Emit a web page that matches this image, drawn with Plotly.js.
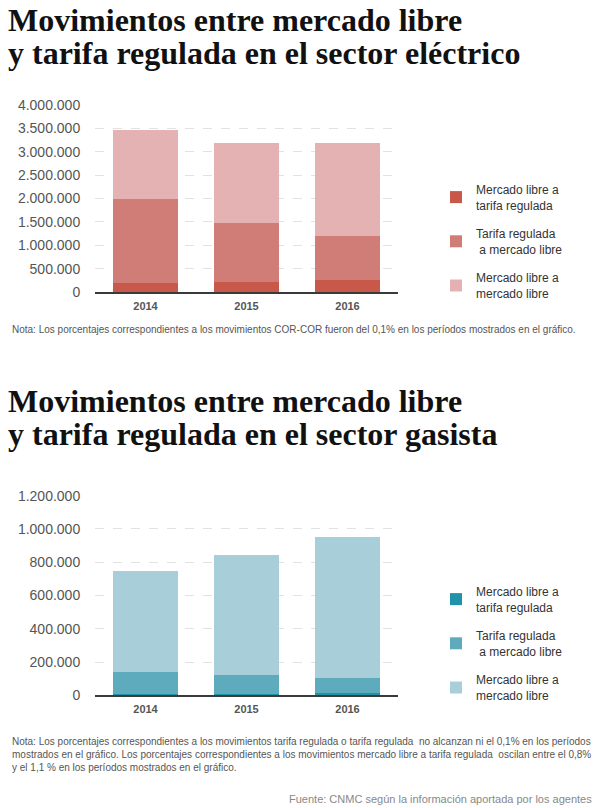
<!DOCTYPE html>
<html>
<head>
<meta charset="utf-8">
<script src="https://cdn.plot.ly/plotly-3.0.1.min.js"></script>
<style>html,body{margin:0;padding:0;background:#fff;}#chart{width:606px;height:808px;}</style>
</head>
<body>
<div id="chart"></div>
<script>
// ---- Data ----
const years = ['2014', '2015', '2016'];

// Sector eléctrico (número de movimientos)
const elecLibreATarifa = [195000, 210000, 265000];
const elecTarifaALibre = [1795000, 1260000, 935000];
const elecLibreALibre = [1475000, 1720000, 1980000];

// Sector gasista
const gasLibreATarifa = [6000, 7000, 11000];
const gasTarifaALibre = [132000, 117000, 93000];
const gasLibreALibre = [611000, 718000, 846000];

const seriesNames = ['Mercado libre a<br>tarifa regulada', 'Tarifa regulada<br> a mercado libre', 'Mercado libre a<br>mercado libre'];

const elecTicks = [0, 500000, 1000000, 1500000, 2000000, 2500000, 3000000, 3500000, 4000000];
const gasTicks = [0, 200000, 400000, 600000, 800000, 1000000, 1200000];

const titleElec = ['Movimientos entre mercado libre', 'y tarifa regulada en el sector eléctrico'];
const titleGas = ['Movimientos entre mercado libre', 'y tarifa regulada en el sector gasista'];
const notaElec = 'Nota: Los porcentajes correspondientes a los movimientos COR-COR fueron del 0,1% en los períodos mostrados en el gráfico.';
const notaGas = ['Nota: Los porcentajes correspondientes a los movimientos tarifa regulada o tarifa regulada  no alcanzan ni el 0,1% en los períodos',
  'mostrados en el gráfico. Los porcentajes correspondientes a los movimientos mercado libre a tarifa regulada  oscilan entre el 0,8%',
  'y el 1,1 % en los períodos mostrados en el gráfico.'];
const fuente = 'Fuente: CNMC según la información aportada por los agentes';

// ---- Styles ----
const W = 606, H = 808;
const px = v => v / W;
const py = v => 1 - v / H;
const elecColors = ['#c8584a', '#d17d77', '#e4b2b2'];
const gasColors = ['#1f93a8', '#5eabbe', '#a8ceda'];

function mk(y, name, color, xa, ya, leg, grp) {
  return {type: 'bar', x: years, y: y, name: name, marker: {color: color, line: {width: 0}},
    xaxis: xa, yaxis: ya, legend: leg, legendgroup: grp, hoverinfo: 'skip'};
}

const traces = [
  mk(elecLibreATarifa, seriesNames[0], elecColors[0], 'x', 'y', 'legend', 'e1'),
  mk(elecTarifaALibre, seriesNames[1], elecColors[1], 'x', 'y', 'legend', 'e2'),
  mk(elecLibreALibre, seriesNames[2], elecColors[2], 'x', 'y', 'legend', 'e3'),
  mk(gasLibreATarifa, seriesNames[0], gasColors[0], 'x2', 'y2', 'legend2', 'g1'),
  mk(gasTarifaALibre, seriesNames[1], gasColors[1], 'x2', 'y2', 'legend2', 'g2'),
  mk(gasLibreALibre, seriesNames[2], gasColors[2], 'x2', 'y2', 'legend2', 'g3')
];

const sans = 'Liberation Sans, Arial, sans-serif';
const serif = 'Liberation Serif, Times New Roman, serif';

function xaxisCfg(anchor) {
  return {domain: [px(95), px(398)], anchor: anchor, type: 'category', showline: true, linecolor: '#3a3a3a',
    linewidth: 1.5, showgrid: false, zeroline: false, ticks: '', fixedrange: true, ticklabelstandoff: 3,
    tickfont: {family: sans, size: 11, color: '#555', weight: 'bold'}};
}
function yaxisCfg(anchor, dom, rng, ticks) {
  return {domain: dom, anchor: anchor, range: rng, tickvals: ticks, tickformat: ',d', showline: false,
    zeroline: false, showgrid: true, gridcolor: '#e2e2e2', griddash: 'dash', gridwidth: 1,
    ticks: 'outside', ticklen: 11, tickcolor: 'rgba(0,0,0,0)', fixedrange: true,
    tickfont: {family: sans, size: 14, color: '#555'}};
}

const ann = [];
function txt(text, x, y, size, family, color, xanchor, weight) {
  ann.push({text: text, x: x, y: y, xref: 'paper', yref: 'paper', xanchor: xanchor || 'left',
    yanchor: 'middle', showarrow: false, align: xanchor === 'right' ? 'right' : 'left',
    font: {family: family, size: size, color: color, weight: weight || 'normal'}});
}
txt(titleElec[0], px(6), py(20), 32, serif, '#111', 'left', 'bold');
txt(titleElec[1], px(6), py(53), 32, serif, '#111', 'left', 'bold');
txt(titleGas[0], px(6), py(401), 32, serif, '#111', 'left', 'bold');
txt(titleGas[1], px(6), py(434), 32, serif, '#111', 'left', 'bold');
txt(notaElec, px(10), py(329), 10, sans, '#555');
txt(notaGas[0], px(10), py(741), 10, sans, '#555');
txt(notaGas[1], px(10), py(754), 10, sans, '#555');
txt(notaGas[2], px(10), py(767), 10, sans, '#555');
txt(fuente, px(594), py(799), 11, sans, '#888', 'right');

const legendCfg = y => ({x: px(436), y: py(y), xanchor: 'left', yanchor: 'top', traceorder: 'grouped',
  tracegroupgap: 10, bgcolor: 'rgba(0,0,0,0)', borderwidth: 0, itemclick: false, itemdoubleclick: false,
  font: {family: sans, size: 12, color: '#333'}});

const layout = {
  width: W, height: H, margin: {l: 0, r: 0, t: 0, b: 0},
  paper_bgcolor: '#fff', plot_bgcolor: '#fff',
  barmode: 'stack', bargap: 0.35, separators: ',.', showlegend: true,
  xaxis: xaxisCfg('y'),
  yaxis: yaxisCfg('x', [py(292), py(105)], [0, 4000000], elecTicks),
  xaxis2: xaxisCfg('y2'),
  yaxis2: yaxisCfg('x2', [py(695.3), py(495.7)], [0, 1200000], gasTicks),
  legend: legendCfg(175),
  legend2: legendCfg(577),
  annotations: ann
};

Plotly.newPlot('chart', traces, layout, {displayModeBar: false, staticPlot: true});
</script>
</body>
</html>
